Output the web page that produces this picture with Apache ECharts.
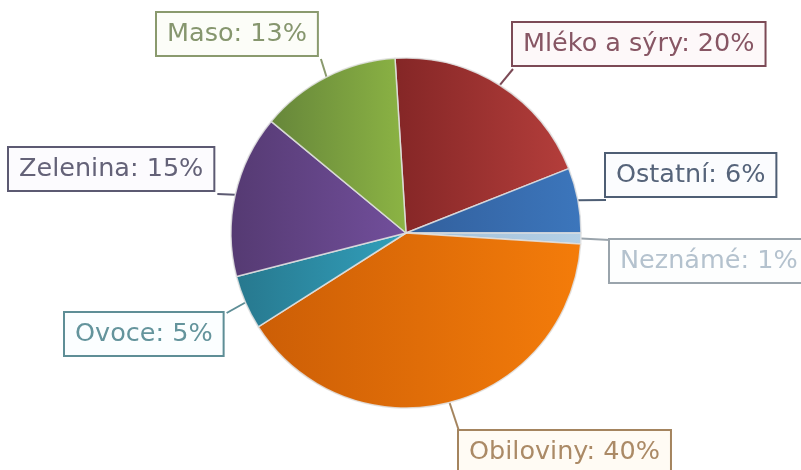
<!DOCTYPE html>
<html>
<head>
<meta charset="utf-8">
<script src="https://cdn.jsdelivr.net/npm/echarts@6/dist/echarts.min.js"></script>
<style>
  html, body { margin: 0; padding: 0; background: #ffffff; }
  #chart { width: 801px; height: 470px; }
</style>
</head>
<body>
<div id="chart"></div>
<script>
// Food groups and their share (%)
const categories = ['Mléko a sýry', 'Ostatní', 'Neznámé', 'Obiloviny', 'Ovoce', 'Zelenina', 'Maso'];
const shares = [20, 6, 1, 40, 5, 15, 13];

// Slice fills: darker left edge -> lighter right edge
const sliceColors = [
  ['#842626', '#b43e3b'],
  ['#325f9c', '#3c76bc'],
  ['#a2bfd8', '#b4d0e6'],
  ['#cc5e06', '#f47c0a'],
  ['#27788e', '#32a0bc'],
  ['#553a72', '#724f9c'],
  ['#66863a', '#8cb444']
];
// Callout text, frame and leader colours
const textColors   = ['#875664', '#56647a', '#b4c2ce', '#ab8a66', '#64949c', '#646278', '#86966e'];
const frameColors  = ['#7c4a56', '#4e5e74', '#9aa4ac', '#a4845e', '#5e8e96', '#5c5a72', '#8a9a6e'];
const frameFills   = ['#fdf8f9', '#fbfcfe', '#fdfefe', '#fffbf4', '#fbfeff', '#fcfbfe', '#fcfdf8'];

// Callout box placement (top-left) and which corner the leader attaches to
const calloutPos = [
  { x: 513, y: 23,  corner: 'bl' },
  { x: 606, y: 154, corner: 'bl' },
  { x: 610, y: 240, corner: 'tl' },
  { x: 459, y: 431, corner: 'tl' },
  { x: 65,  y: 313, corner: 'tr' },
  { x: 9,   y: 148, corner: 'br' },
  { x: 157, y: 13,  corner: 'br' }
];

const chart = echarts.init(document.getElementById('chart'), null, { renderer: 'canvas' });

const data = categories.map((name, i) => ({
  name,
  value: shares[i],
  itemStyle: {
    color: new echarts.graphic.LinearGradient(0, 0, 1, 0, [
      { offset: 0, color: sliceColors[i][0] },
      { offset: 1, color: sliceColors[i][1] }
    ])
  },
  label: {
    color: textColors[i],
    borderColor: frameColors[i],
    backgroundColor: frameFills[i]
  },
  labelLine: { lineStyle: { color: frameColors[i] } }
}));

chart.setOption({
  animation: false,
  backgroundColor: '#ffffff',
  series: [{
    type: 'pie',
    center: [406, 233],
    radius: 175,
    startAngle: 93.6,
    clockwise: true,
    avoidLabelOverlap: false,
    emphasis: { disabled: true },
    itemStyle: {
      borderColor: 'rgba(225,225,225,0.85)',
      borderWidth: 1.5
    },
    label: {
      show: true,
      position: 'outside',
      formatter: p => p.name + ': ' + p.value + '%',
      fontFamily: 'DejaVu Sans, Verdana, sans-serif',
      fontSize: 25.5,
      lineHeight: 30,
      padding: [6, 10, 6, 10],
      borderWidth: 2
    },
    labelLine: {
      show: true,
      length: 20,
      length2: 10,
      lineStyle: { width: 2 }
    },
    labelLayout: function (params) {
      const pos = calloutPos[params.dataIndex];
      const w = params.labelRect.width;
      const h = params.labelRect.height;
      const cx = pos.corner[1] === 'l' ? pos.x : pos.x + w;
      const cy = pos.corner[0] === 't' ? pos.y : pos.y + h;
      const anchor = params.labelLinePoints ? params.labelLinePoints[0] : [cx, cy];
      return {
        x: pos.x,
        y: pos.y,
        align: 'left',
        verticalAlign: 'top',
        labelLinePoints: [anchor, [cx, cy]]
      };
    },
    data: data
  }]
});
</script>
</body>
</html>
